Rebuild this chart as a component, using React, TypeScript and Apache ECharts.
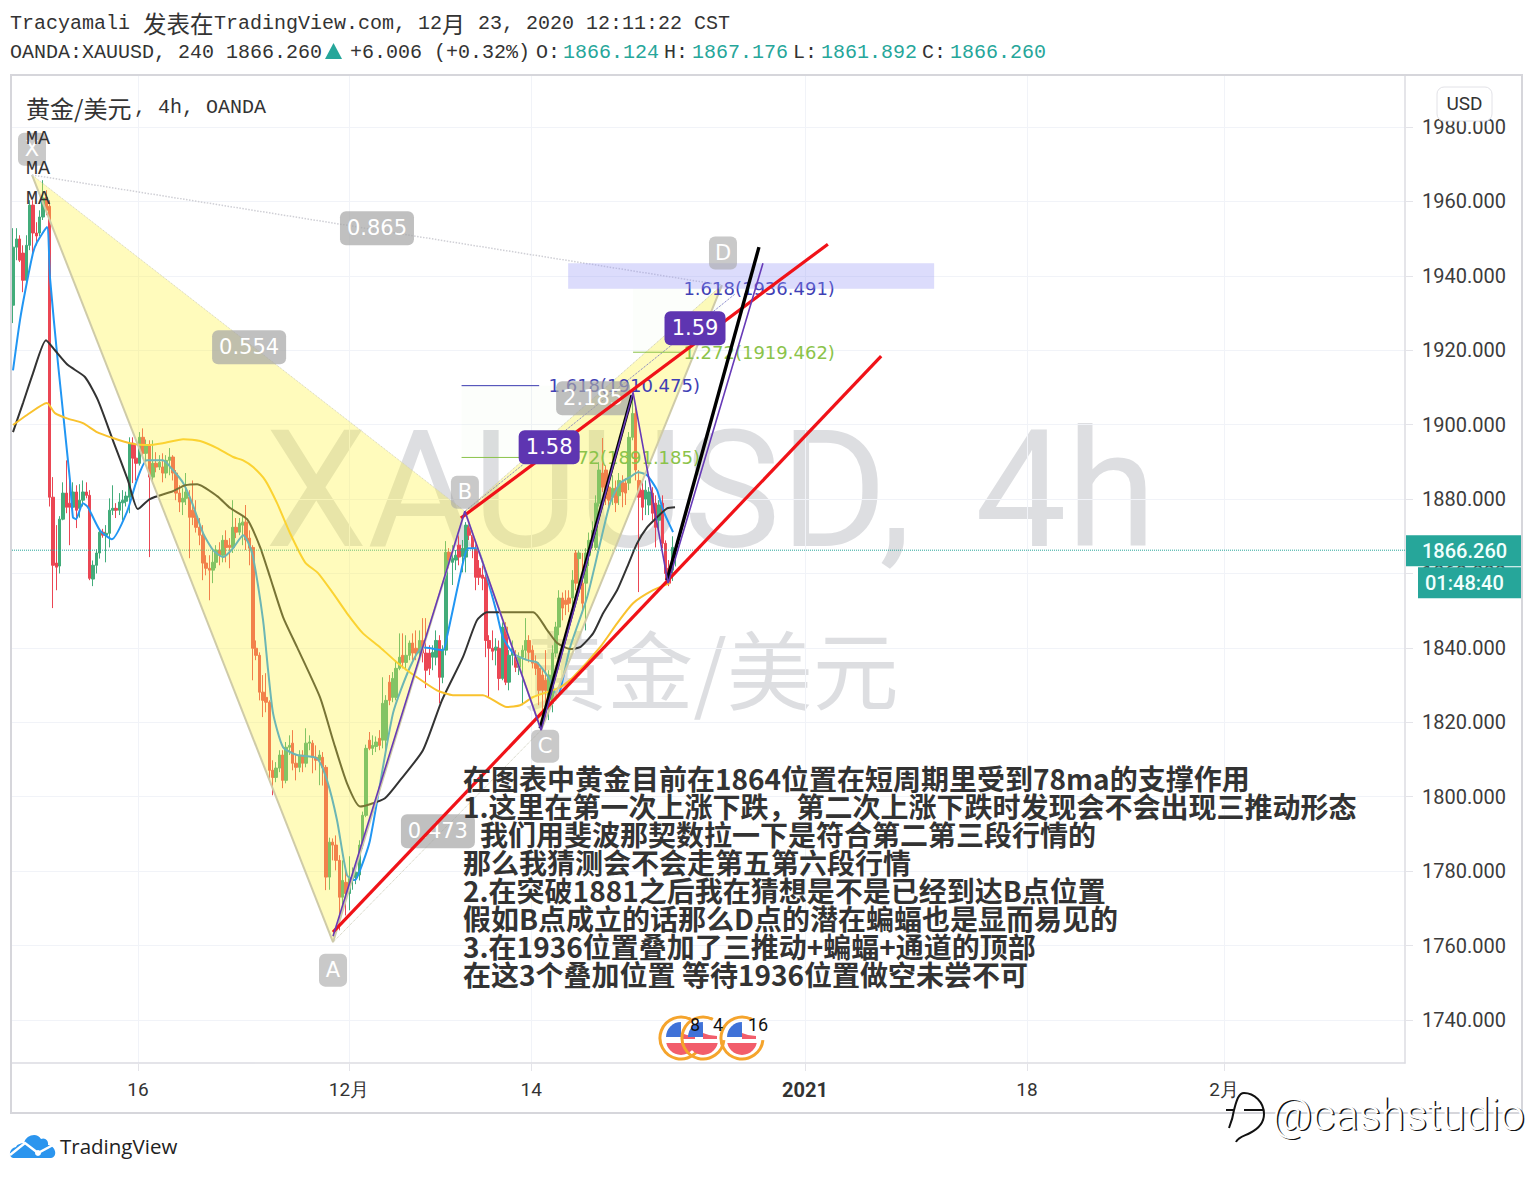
import React, { useEffect, useRef } from "react";
import * as echarts from "echarts";

const priceTicks = [1740,1760,1780,1800,1820,1840,1860,1880,1900,1920,1940,1960,1980];
const timeTickAt = [37.5,100.9,155.6,237.8,304.5,363.7];
const timeTickNames = ["16","12月","14","2021","18","2月"];
const lastPrice = 1866.26;

// open, close, low, high of each 4h bar
const ohlc: number[][] = [
[1932.1,1947.7,1927.3,1952.8],[1947.7,1949.9,1944.2,1952.8],[1949.9,1944.2,1943.7,1950.9],[1946.1,1938.8,1935.6,1948.2],[1938.8,1948.2,1938,1950.9],
[1948.2,1959,1946.9,1960.3],[1959,1951.5,1946.1,1960.3],[1951.5,1950.7,1948.2,1954.4],[1951.5,1955.8,1950.7,1957.6],[1955.8,1960.9,1955,1965.7],
[1961.1,1957.6,1956.3,1963],[1958.7,1880.5,1878,1960.3],[1880.5,1862.2,1850.7,1885.9],[1862.8,1861.7,1855.5,1873],[1862,1874.6,1860,1875.4],
[1874.6,1881.6,1874.3,1884.5],[1881.6,1877.8,1876.2,1890.4],[1878.9,1877.8,1867.6,1885.1],[1877.8,1881.9,1877,1884.5],[1881.9,1877,1872.2,1883.7],
[1877.5,1879.7,1875,1884],[1879.7,1881.9,1878,1885],[1881.9,1881,1880.2,1884.5],[1881,1858.7,1858.2,1882.4],[1858.5,1862.2,1856.6,1863.5],
[1862.2,1865.5,1860,1866.5],[1865.5,1871.1,1864,1872],[1871.1,1870.3,1869.6,1872],[1870.3,1870.8,1863,1873],[1870.8,1877,1867,1880.2],
[1877,1877.5,1875.7,1883.7],[1877.5,1877,1874.9,1878.9],[1877,1879.2,1875.7,1881.6],[1879,1879.7,1874.3,1882.4],[1879.4,1880.8,1878,1882],
[1880.5,1895,1876.2,1896.6],[1895,1891,1884.3,1896.6],[1891,1889.6,1885,1894.5],[1889.6,1896.6,1889,1898],[1896.6,1892.3,1891,1899],
[1892.3,1894.5,1890,1896],[1894.5,1885.9,1864.4,1895.8],[1885.9,1889.6,1885,1895.8],[1889.6,1888.6,1887.2,1892.6],[1888.6,1889.9,1887.8,1891.8],
[1888.6,1887,1884.5,1892.3],[1887,1890.4,1885.6,1891.8],[1890.4,1891.3,1886.4,1893.7],[1891.3,1887,1885,1891.8],[1887,1881.6,1879.7,1887.8],
[1881.6,1879.2,1876.5,1883.7],[1879.2,1880.2,1875.7,1882.9],[1880.2,1881.9,1878.4,1887],[1880.5,1875.1,1864.1,1882.4],[1877,1875.1,1873,1885],
[1875.1,1872.4,1871,1879.7],[1872.4,1870.3,1867.6,1874.9],[1870.3,1862.8,1858.2,1873],[1862.8,1861.4,1859.5,1864.9],[1861.4,1860.9,1852.8,1864.9],
[1860.9,1863,1857.4,1866.3],[1863,1866.3,1861.4,1867.6],[1866.3,1864.9,1862.2,1868.4],[1864.9,1868.9,1863,1870.3],[1868.9,1867,1863,1871.6],
[1867.6,1867,1861.4,1869.5],[1867,1872.4,1865.5,1879.7],[1872.4,1871.1,1869.5,1874.9],[1871.1,1873.5,1870.3,1874.9],[1873,1873.8,1867.6,1875.7],
[1873.8,1869,1866.3,1878.4],[1869.5,1866.8,1862.2,1871.6],[1867,1839.9,1831.3,1867.6],[1839.9,1838,1836.7,1842],[1838,1828.1,1825.9,1838.8],
[1828.1,1825.9,1821.4,1832.7],[1826.7,1825.4,1822.7,1833.2],[1825.4,1807.1,1804.4,1825.9],[1807.1,1805.2,1800.4,1809.8],[1805.2,1807.7,1803.9,1809.3],
[1807.7,1811.2,1806.6,1812.5],[1811.2,1804.4,1802.3,1812.5],[1804.4,1813.3,1803.6,1814.7],[1813.3,1813.8,1811.2,1816.5],[1814.4,1809,1807.1,1817.9],
[1809,1807.9,1804.4,1811.2],[1807.9,1811.2,1806.6,1812.5],[1811.2,1809,1806.6,1812.5],[1809,1814.4,1807.9,1818.4],[1814.4,1814.7,1812.5,1816.5],
[1814.4,1810.6,1806.3,1815.2],[1810.6,1809.8,1807.1,1813.8],[1809.8,1811.2,1803.1,1812.5],[1810.6,1807.9,1803,1812],[1807.9,1778.4,1774.9,1808.5],
[1778.4,1787.8,1775,1789],[1787.8,1787,1782.9,1788.8],[1787,1782.9,1780.2,1789.6],[1782.9,1773,1764.1,1784.3],[1773,1777.5,1770.8,1782.9],
[1777,1774,1768.1,1780.2],[1774,1778,1769.5,1784],[1777.5,1778.6,1775,1781],[1778.3,1779.7,1776.5,1782],[1779,1787,1777.5,1788.3],
[1787,1795,1786,1796],[1795,1813,1794.5,1814],[1815.2,1813,1812.5,1817.4],[1813,1813.8,1811.2,1816.5],[1813.5,1814.7,1812,1816.2],
[1815.7,1813.8,1812.5,1817.9],[1815.2,1825.1,1813,1832.1],[1815.2,1825.9,1811.2,1827.3],[1830.8,1825.9,1824.6,1832.7],[1826.7,1831.8,1825.4,1833.5],
[1826.7,1834.5,1825.9,1836.7],[1834.5,1837.5,1834,1843.9],[1838,1836.1,1834.5,1843.9],[1836.1,1838,1834,1843.4],[1838,1841.3,1836.7,1842],
[1841.3,1838.6,1836.7,1843.9],[1839.9,1838.6,1836.7,1844.7],[1838.6,1842,1837.5,1844.7],[1842,1838.6,1836.1,1848],[1838.6,1834,1829.2,1848],
[1838.6,1834.5,1832.7,1840.7],[1837.5,1838.8,1834,1840.7],[1837.5,1842,1835.3,1844.7],[1842,1832.1,1825.1,1843.4],[1832.1,1839.4,1830.5,1840.7],
[1839.4,1865.7,1838,1868.7],[1865.7,1863.6,1861.4,1866.8],[1863,1864.1,1856.9,1867.6],[1863.6,1864.9,1860.9,1866.3],[1867.6,1864.4,1862.2,1870.3],
[1864.6,1866.8,1860.3,1869],[1864.4,1873,1860.3,1873.8],[1872.4,1870.3,1869,1873.5],[1870.3,1866.8,1864.1,1871.6],[1866.8,1859,1855.5,1868.4],
[1861.4,1859,1856.9,1863.6],[1859.6,1858.7,1855.5,1862.2],[1859,1842,1837.5,1859.6],[1842,1839.9,1826.7,1843.4],[1839.9,1839.1,1836.7,1844.7],
[1839.4,1840.2,1835.3,1842.6],[1839.9,1831.8,1828.6,1842],[1831.8,1845.6,1831.3,1846.9],[1845.6,1830.8,1830,1846.9],[1830.8,1838,1828.6,1839.4],
[1838,1839.9,1835.3,1842],[1837.5,1834.8,1833.5,1839.4],[1834.8,1837.5,1832.7,1838.8],[1837.5,1839.4,1824.6,1840.7],[1839.4,1842,1836.7,1848],
[1842,1838.8,1836.1,1843.4],[1839.4,1835.9,1834.5,1840.7],[1835.9,1834.5,1832.7,1838],[1834.5,1828.6,1824.6,1836.1],[1832.7,1828.6,1822.7,1834],
[1831.3,1828.6,1820.6,1839.4],[1826,1832.7,1820.6,1834],[1825.1,1838.6,1822.7,1840.7],[1838.6,1845.6,1837.5,1847],[1845.6,1853.4,1843.4,1855.5],
[1853.4,1850.7,1847.4,1854.9],[1852.8,1851.7,1848.8,1855.5],[1853.4,1852,1849.6,1855.5],[1853.4,1858.2,1850.2,1860.9],[1865.5,1857.4,1855.5,1866.3],
[1864,1865.5,1855.5,1866.3],[1857.4,1852,1849.3,1865.5],[1857.4,1865.5,1844.7,1866.8],[1864.9,1868.9,1862,1871],[1868.9,1871.6,1866.8,1874],
[1867,1878.9,1866.3,1881],[1878.9,1887.8,1878,1889.9],[1887,1883.2,1881.9,1896.4],[1887.8,1880.2,1878.4,1889],[1883.2,1879.7,1877.8,1885],
[1880.5,1882.9,1878.4,1886.4],[1882.9,1879,1876.5,1885],[1880.9,1885,1878.4,1887],[1884.5,1881.9,1877.8,1886.4],[1884.3,1881.6,1878.4,1885.6],
[1884.3,1896.6,1882.4,1898],[1896.6,1903,1895.8,1908.5],[1903,1887.8,1885,1905.2],[1885,1880.5,1855,1887.8],[1882.4,1877.8,1874.3,1884.5],
[1880,1882.4,1875.7,1885],[1878.4,1881.9,1875.7,1883.2],[1881.6,1876.2,1874.3,1883.2],[1878.9,1872.4,1867,1881],[1874.3,1878.4,1871.6,1879.7],
[1878.9,1868.1,1866.8,1881],[1868.1,1860,1858.2,1868.9],[1861.4,1857.4,1856.6,1863.6],[1860.9,1867,1858,1870],[1866.124,1866.26,1861.892,1867.176],
];

const maFast: number[][] = [[0,1914.6],[2.1,1928.1],[3.9,1937],[6,1946.1],[7.2,1949],[10.2,1953.1],[11.1,1939.6],[13.5,1916.5],[17.1,1885.1],[18,1875.1],[18.9,1874.6],[21,1878.9],[22.5,1877.8],[26.1,1871.6],[29.7,1869.2],[34.2,1876.5],[37.2,1885.1],[40.2,1890.4],[45,1890.4],[48,1887.8],[51.1,1884.3],[53.8,1878.9],[57.1,1870.8],[60.1,1866.3],[63.1,1864.4],[66.1,1866.8],[69.1,1870.3],[70.6,1868.4],[72.1,1864.4],[75.1,1847.4],[76.6,1834],[78.1,1822.4],[81.1,1813.3],[85.3,1811.2],[91.3,1810.3],[94.3,1804.4],[97.3,1793.7],[100.3,1778.9],[102.7,1777.6],[104.2,1780.2],[107.2,1788.3],[114.1,1822.4],[119.2,1834.8],[123.1,1840.2],[129.1,1839.4],[130.3,1842.9],[135.1,1862.8],[136.6,1866.8],[139.3,1866.8],[142.3,1859],[145.3,1849.3],[147.1,1842.9],[150.2,1838.6],[154.4,1836.7],[157.4,1836.1],[161.3,1831.3],[163.4,1826.8],[167.3,1840.2],[172.4,1853.6],[176.3,1868.1],[179.3,1878.9],[182.3,1884.3],[185.3,1885.9],[187.7,1887.2],[190.4,1886.4],[193.4,1882.4],[195.2,1877],[198.2,1871.1]];
const maMid: number[][] = [[0,1898],[3,1905.8],[6,1913.8],[9.9,1922.7],[12.6,1920],[16.5,1916],[21.6,1912.8],[25.5,1906.6],[30,1895.8],[34.5,1885.1],[37.5,1877.3],[41.1,1880],[48,1882.1],[51.7,1883.7],[55.3,1884],[61.3,1880.8],[65.2,1877.6],[70.3,1874.6],[74.2,1867.1],[77.2,1859],[81.1,1848.3],[85.3,1840.2],[92.2,1826.7],[96.1,1815.2],[100.3,1803.6],[104.2,1797.4],[107.2,1798],[111.7,1799.6],[116.2,1804.4],[123.1,1812.5],[128.8,1825.9],[135.1,1837.5],[139.3,1847.4],[142.3,1849.6],[148.3,1849.6],[156.2,1849.6],[160.4,1844.8],[163.4,1841.3],[167.3,1839.7],[170.3,1840.2],[174.2,1843.9],[177.2,1849.3],[181.4,1855.5],[184.4,1861.7],[187.4,1868.1],[190.4,1872.4],[193.4,1875.1],[196.4,1877.5],[198.8,1877.8]];
const maSlow: number[][] = [[0,1899.9],[4.2,1902.6],[10.2,1905.8],[12.6,1903.1],[16.2,1901.7],[21,1900.4],[25.2,1898],[30,1896.4],[35.1,1895],[40.2,1894.5],[45,1895],[51.1,1896.1],[56.2,1895.6],[61.3,1893.7],[66.1,1891.3],[69.1,1890.4],[72.1,1888.6],[75.7,1885.1],[79.3,1878.9],[83.2,1870.8],[87.7,1863],[91.6,1860.1],[96.1,1854.7],[100.3,1849.3],[105.1,1843.9],[110.2,1840.2],[115.3,1836.1],[121.3,1832.1],[127.3,1828.6],[132.1,1827.3],[141.1,1827.3],[148.3,1824.1],[152.3,1824.6],[156.2,1826.8],[164.3,1829.4],[168.2,1832.1],[176.3,1840.2],[181.4,1846.6],[186.2,1852],[192.2,1855.5],[197.3,1857.4]];

// harmonic pattern pivots
const pX = [5.7, 1967.1];
const pA = [96.1, 1760.9];
const pB = [135.7, 1876.7];
const pC = [158.6, 1817.9];
const pD = [212.9, 1937.5];

const redUpper = [[134.5,1874.9],[244.7,1948.5]];
const redLower = [[96.1,1763.6],[260.7,1918.4]];
const blackFirst = [[158.3,1818.4],[185.9,1907.9]];
const blackSecond = [[196.4,1858.2],[224,1947.7]];
const purplePath = [[96.1,1762.5],[135.7,1876.7],[158.6,1817.9],[186.2,1908.7],[196.7,1857.4],[225.2,1943.4]];
const dottedGuide = [[135.7,1876.7],[216.8,1935.1]];

// fib labels: right end index, price, text
const fibBlue = [[206.3,1910.475,"1.618(1910.475)"],[246.8,1936.491,"1.618(1936.491)"]];
const fibGreen = [[206.3,1891.185,"1.272(1891.185)"],[246.8,1919.462,"1.272(1919.462)"]];
const fibLineBlue = [[134.7,1910.475],[158,1910.475]];
const fibLineGreenLow = [[134.7,1891.185],[153,1891.185]];
const fibLineGreenHigh = [[186.2,1919.462],[201.5,1919.462]];
const fibZones = [[134.7,185,1910.475,1891.185],[186.2,213,1936.491,1919.462]];
const targetZone = [166.7,276.6,1943.4,1936.491];

const grayTags = [[109.3,1952.8,"0.865"],[70.9,1920.8,"0.554"],[174.2,1907.1,"2.185"],[127.6,1790.7,"0.473"]];
const letterTags = [[5.7,1974,"X"],[96.1,1753.4,"A"],[135.7,1881.8,"B"],[159.8,1813.6,"C"],[213.2,1946.1,"D"]];
const purpleTags = [[161,1893.9,"1.58"],[204.8,1925.9,"1.59"]];

const noteLines = [
  "在图表中黄金目前在1864位置在短周期里受到78ma的支撑作用",
  "1.这里在第一次上涨下跌，第二次上涨下跌时发现会不会出现三推动形态",
  "我们用斐波那契数拉一下是符合第二第三段行情的",
  "那么我猜测会不会走第五第六段行情",
  "2.在突破1881之后我在猜想是不是已经到达B点位置",
  "假如B点成立的话那么D点的潜在蝙蝠也是显而易见的",
  "3.在1936位置叠加了三推动+蝙蝠+通道的顶部",
  "在这3个叠加位置 等待1936位置做空未尝不可",
];

const MONO = '"Liberation Mono", monospace';
const CJK = '"Noto Sans CJK SC", sans-serif';
const TEAL = "#26A69A";
const INK = "#333";

echarts.graphic.registerShape("tvCloud", echarts.graphic.extendPath(
  "M3 25 C-2 24 -1 15 6 14 C7 11 12 10 14 10 C16 2 27 -1 31 6 C35 4 39 8 38 12 C46 13 48 24 41 25 Z", {}) as any);
echarts.graphic.registerShape("tvWave", echarts.graphic.extendPath(
  "M0 22 L15 10 L28 20 L43 12", {}) as any);
echarts.graphic.registerShape("bubble", echarts.graphic.extendPath(
  "M10 52 C12 47 18 46 24 43 C32 39 38 33 38 24 C38 12 28 3 18 3 C12 3 10 13 8 20 M8 20 C7 27 5 33 3 38 M0 20 H8 M18 20 H37", {}) as any);

const txt = (x: number, y: number, text: string, o: any = {}) => ({
  type: "text", x, y, z: o.z ?? 20,
  style: { text, fill: o.fill ?? INK, fontSize: o.size ?? 20, fontFamily: o.font ?? MONO, fontWeight: o.weight ?? "normal",
    textAlign: o.align ?? "left", textVerticalAlign: "middle", opacity: o.opacity ?? 1 },
});

const flag = (cx: number, cy: number) => ({
  type: "group", z: 20,
  children: [
    { type: "arc", z: 20, shape: { cx, cy, r: 21, startAngle: 0.1, endAngle: 5.2 }, style: { stroke: "#F5A42C", lineWidth: 3, fill: "none" } },
    { type: "sector", z: 20, shape: { cx, cy: cy - 1, r: 15, r0: 0, startAngle: Math.PI, endAngle: 4.71 }, style: { fill: "#3F72D8" } },
    { type: "sector", z: 20, shape: { cx, cy: cy + 2, r: 15, r0: 0, startAngle: 0, endAngle: Math.PI }, style: { fill: "#F25D6B" } },
    { type: "rect", z: 20, shape: { x: cx - 15, y: cy + 2, width: 30, height: 3 }, style: { fill: "#fff" } },
    { type: "polygon", z: 20, shape: { points: [[cx, cy - 5], [cx + 6, cy - 3], [cx + 14, cy - 2], [cx + 14, cy + 1], [cx, cy + 1]] }, style: { fill: "#F25D6B" } },
  ],
});

const lineSeries = (data: any[], color: string, width: number, z: number, type = "solid", smooth: any = false) => ({
  type: "line", data, z, showSymbol: false, silent: true, smooth, clip: false,
  lineStyle: { color, width, type }, itemStyle: { color },
});

const tagSeries = (rows: any[], w: number, h: number, fill: string, z: number, size = 21) => ({
  type: "custom", coordinateSystem: "cartesian2d", z, silent: true, clip: false,
  data: rows.map((r) => [r[0], r[1]]), encode: { x: 0, y: 1 },
  renderItem: (params: any, api: any) => {
    const p = api.coord([api.value(0), api.value(1)]);
    return {
      type: "group",
      children: [
        { type: "rect", shape: { x: p[0] - w / 2, y: p[1] - h / 2, width: w, height: h, r: 6 }, style: { fill } },
        { type: "text", x: p[0], y: p[1], style: { text: rows[params.dataIndex][2], fill: "#fff", fontSize: size, fontFamily: '"DejaVu Sans", sans-serif', textAlign: "center", textVerticalAlign: "middle" } },
      ],
    };
  },
});

const fibTextSeries = (rows: any[], color: string, z: number) => ({
  type: "custom", coordinateSystem: "cartesian2d", z, silent: true, clip: false,
  data: rows.map((r) => [r[0], r[1]]), encode: { x: 0, y: 1 },
  renderItem: (params: any, api: any) => {
    const p = api.coord([api.value(0), api.value(1)]);
    return { type: "text", x: p[0], y: p[1], style: { text: rows[params.dataIndex][2], fill: color, fontSize: 18, fontFamily: '"DejaVu Sans", sans-serif', textAlign: "right", textVerticalAlign: "middle" } };
  },
});

const rectSeries = (rows: number[][], fill: string, z: number) => ({
  type: "custom", coordinateSystem: "cartesian2d", z, silent: true,
  data: rows.map((r) => [r[0], r[2], r[1], r[3]]), encode: { x: [0, 2], y: [1, 3] },
  renderItem: (_: any, api: any) => {
    const a = api.coord([api.value(0), api.value(1)]);
    const b = api.coord([api.value(2), api.value(3)]);
    return { type: "rect", shape: { x: a[0], y: a[1], width: b[0] - a[0], height: b[1] - a[1] }, style: { fill } };
  },
});

const triangles = [[pX, pA, pB], [pB, pC, pD]];

export default function App() {
  const ref = useRef<HTMLDivElement>(null);
  useEffect(() => {
    document.body.style.margin = "0";
    document.body.style.background = "#fff";
    const chart = echarts.init(ref.current!, undefined, { renderer: "svg" });
    const xMin = -0.3, xMax = 418;
    chart.setOption({
      animation: false,
      backgroundColor: "#fff",
      grid: { left: 12, top: 76, width: 1393, height: 987, containLabel: false },
      xAxis: {
        type: "value", min: xMin, max: xMax,
        axisLine: { show: true, onZero: false, lineStyle: { color: "#DCDCE2", width: 1.5 } },
        axisTick: { show: true, length: 8, customValues: timeTickAt, lineStyle: { color: "#E4E4E9" } },
        splitLine: { show: true, lineStyle: { color: "#F1F3F8", width: 1 } },
        axisLabel: {
          customValues: timeTickAt, margin: 17, fontSize: 19, color: INK, fontFamily: "Roboto",
          formatter: (v: number) => {
            const n = timeTickNames[timeTickAt.indexOf(v)] ?? "";
            return n === "2021" ? "{b|2021}" : n;
          },
          rich: { b: { fontWeight: "bold", fontSize: 20, color: INK, fontFamily: "Roboto" } },
        },
      },
      yAxis: {
        type: "value", position: "right", min: 1728.44, max: 1993.7,
        axisLine: { show: true, onZero: false, lineStyle: { color: "#DCDCE2", width: 1.5 } },
        axisTick: { show: true, length: 8, customValues: priceTicks, lineStyle: { color: "#E4E4E9" } },
        splitLine: { show: true, lineStyle: { color: "#F1F3F8", width: 1 } },
        axisLabel: { customValues: priceTicks, margin: 17, fontSize: 20, color: "#3C3C3C", fontFamily: "Roboto", padding: [2, 0, 0, 0], formatter: (v: number) => v.toFixed(3) },
      },
      series: [
        {
          type: "candlestick", z: 2, silent: true, barWidth: 3,
          data: ohlc.map((r, i) => [i, r[0], r[1], r[2], r[3]]),
          encode: { x: 0, y: [1, 2, 3, 4] },
          itemStyle: { color: "#43AC7A", color0: "#EB4654", borderColor: "#43AC7A", borderColor0: "#EB4654", borderWidth: 1 },
        },
        lineSeries(maFast, "#2196F3", 2, 3, "solid", 0.2),
        lineSeries(maMid, "#333333", 2, 3, "solid", 0.2),
        lineSeries(maSlow, "#F9C22E", 2, 3, "solid", 0.2),
        lineSeries([[xMin, lastPrice], [xMax, lastPrice]], TEAL, 1, 3, "dotted"),
        {
          type: "custom", coordinateSystem: "cartesian2d", z: 4, silent: true,
          data: triangles.map((t) => [t[0][0], t[0][1]]), encode: { x: 0, y: 1 },
          renderItem: (params: any, api: any) => {
            const t = triangles[params.dataIndex];
            return { type: "polygon", shape: { points: t.map((q) => api.coord(q)) }, style: { fill: "rgba(255,243,60,0.34)" } };
          },
        },
        lineSeries([pX, pA], "#CFCBA8", 2, 5),
        lineSeries([pA, pB], "#CFCBA8", 2, 5),
        lineSeries([pB, pC], "#CFCBA8", 2, 5),
        lineSeries([pC, pD], "#CFCBA8", 2, 5),
        lineSeries([pX, pB], "#D5D3B8", 1, 5, "dotted"),
        lineSeries([pX, pD], "#CFCFD5", 1.5, 5, "dotted"),
        lineSeries([pA, pC], "#C9C9B5", 1, 5, "dotted"),
        lineSeries([pB, pD], "#C9C9B5", 1, 5, "dotted"),
        lineSeries(dottedGuide, "#6A6AC0", 1, 5, "dotted"),
        rectSeries(fibZones, "rgba(139,195,74,0.025)", 5),
        lineSeries(fibLineBlue, "#3A3AB0", 1, 5),
        lineSeries(fibLineGreenLow, "#8BC34A", 1, 5),
        lineSeries(fibLineGreenHigh, "#8BC34A", 1, 5),
        fibTextSeries(fibBlue, "#3F3FB5", 6),
        fibTextSeries(fibGreen, "#8BC34A", 6),
        rectSeries([targetZone], "rgba(150,150,245,0.33)", 6),
        tagSeries(grayTags, 74, 34, "rgba(165,165,165,0.7)", 7),
        tagSeries(letterTags, 28, 33, "rgba(165,165,165,0.6)", 7),
        lineSeries(redUpper, "#F01218", 3.2, 8),
        lineSeries(redLower, "#F01218", 3.2, 8),
        lineSeries(blackFirst, "#000", 3.4, 8),
        lineSeries(blackSecond, "#000", 3.4, 8),
        lineSeries(purplePath, "#673AB7", 1.6, 8),
        tagSeries(purpleTags, 61, 34, "#5E35B1", 9),
        {
          type: "custom", coordinateSystem: "cartesian2d", z: 12, silent: true, clip: false,
          data: [[xMax, lastPrice]], encode: { x: 0, y: 1 },
          renderItem: (_: any, api: any) => {
            const p = api.coord([api.value(0), api.value(1)]);
            return {
              type: "group",
              children: [
                { type: "rect", shape: { x: p[0] + 1, y: p[1] - 15, width: 115, height: 31 }, style: { fill: TEAL } },
                { type: "text", x: p[0] + 17, y: p[1] + 1, style: { text: lastPrice.toFixed(3), fill: "#F2FFFD", fontSize: 20, fontWeight: 500, fontFamily: "Roboto", textVerticalAlign: "middle" } },
                { type: "rect", shape: { x: p[0] + 13, y: p[1] + 17, width: 103, height: 31 }, style: { fill: TEAL } },
                { type: "text", x: p[0] + 20, y: p[1] + 33, style: { text: "01:48:40", fill: "#F2FFFD", fontSize: 20, fontWeight: 500, fontFamily: "Roboto", textVerticalAlign: "middle" } },
              ],
            };
          },
        },
      ],
      graphic: [
        { type: "text", x: 265, y: 490, z: 0, style: { text: "XAUUSD,", fill: "rgba(120,123,134,0.25)", fontSize: 163, fontFamily: "Roboto", textAlign: "left", textVerticalAlign: "middle" } },
        { type: "text", x: 975, y: 490, z: 0, style: { text: "4h", fill: "rgba(120,123,134,0.25)", fontSize: 163, fontFamily: "Roboto", textAlign: "left", textVerticalAlign: "middle" } },
        { type: "text", x: 710, y: 666, z: 0, style: { text: "黄金/美元", fill: "rgba(120,123,134,0.25)", fontSize: 86, fontFamily: CJK, textAlign: "center", textVerticalAlign: "middle" } },
        { type: "rect", z: 15, shape: { x: 11, y: 75, width: 1511, height: 1038 }, style: { fill: "none", stroke: "#D6D6DB", lineWidth: 2 } },
        txt(10, 23, "Tracyamali"),
        txt(143, 23, "发表在", { font: CJK, size: 23.5 }),
        txt(214, 23, "TradingView.com,"),
        txt(418, 23, "12"),
        txt(442, 23, "月", { font: CJK, size: 23 }),
        txt(478, 23, "23, 2020 12:11:22 CST"),
        txt(10, 52, "OANDA:XAUUSD, 240 1866.260"),
        { type: "polygon", z: 20, shape: { points: [[325, 59], [342, 59], [333.5, 43]] }, style: { fill: TEAL } },
        txt(350, 52, "+6.006 (+0.32%)"),
        txt(536, 52, "O:"), txt(563, 52, "1866.124", { fill: TEAL }),
        txt(664, 52, "H:"), txt(692, 52, "1867.176", { fill: TEAL }),
        txt(793, 52, "L:"), txt(821, 52, "1861.892", { fill: TEAL }),
        txt(922, 52, "C:"), txt(950, 52, "1866.260", { fill: TEAL }),
        txt(26, 107, "黄金/美元", { font: CJK, size: 24 }),
        txt(134, 107, ", 4h, OANDA"),
        txt(26, 138, "MA"), txt(26, 168, "MA"), txt(26, 198, "MA"),
        { type: "rect", z: 20, shape: { x: 1437, y: 87, width: 55, height: 34, r: 7 }, style: { fill: "#fff", stroke: "#E2E2E7", lineWidth: 1 } },
        txt(1464.5, 103, "USD", { font: "Roboto", size: 19, align: "center" }),
        ...noteLines.map((t, i) => txt(i === 2 ? 480 : 463, 778 + i * 28, t, { font: CJK, size: 28, weight: "bold", fill: "#333" })),
        flag(681, 1038), flag(703, 1038), flag(742, 1038),
        txt(690, 1024, "8", { font: "Roboto", size: 18, fill: "#111" }),
        txt(713, 1024, "4", { font: "Roboto", size: 18, fill: "#111" }),
        txt(748, 1024, "16", { font: "Roboto", size: 18, fill: "#111" }),
        { type: "tvCloud", x: 10, y: 1133, z: 20, style: { fill: "#2B95EE" } },
        { type: "tvWave", x: 10, y: 1133, z: 20, style: { fill: "none", stroke: "#fff", lineWidth: 2.5 } },
        { type: "circle", z: 20, shape: { cx: 38, cy: 1153, r: 3 }, style: { fill: "#fff" } },
        txt(60, 1146, "TradingView", { font: '"Open Sans"', size: 20.5, fill: "#222" }),
        { type: "bubble", x: 1226, y: 1090, z: 22, style: { fill: "none", stroke: "#111", lineWidth: 2 } },
        txt(1273.5, 1116, "@cashstudio", { font: "Roboto", size: 44, fill: "#111", weight: 300 }),
        { ...txt(1272, 1115, "@cashstudio", { font: "Roboto", size: 44, fill: "#fff", weight: 300 }), z: 23 },
      ],
    } as any);
    return () => chart.dispose();
  }, []);
  return <div ref={ref} style={{ width: 1533, height: 1177 }} />;
}
